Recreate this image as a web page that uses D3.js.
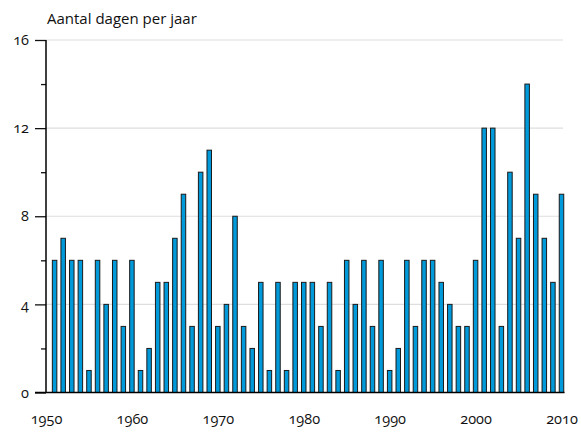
<!DOCTYPE html>
<html>
<head>
<meta charset="utf-8">
<script src="https://cdn.jsdelivr.net/npm/d3@7"></script>
<style>
  body { margin: 0; background: #fff; }
  svg text { font-family: "Open Sans", "Noto Sans", sans-serif; font-variant-numeric: oldstyle-nums; fill: #111; }
</style>
</head>
<body>
<script>
// years and number of days per year
let years = d3.range(1951, 2011);
let days = [
  6, 7, 6, 6, 1, 6, 4, 6, 3, 6,
  1, 2, 5, 5, 7, 9, 3, 10, 11, 3,
  4, 8, 3, 2, 5, 1, 5, 1, 5, 5,
  5, 3, 5, 1, 6, 4, 6, 3, 6, 1,
  2, 6, 3, 6, 6, 5, 4, 3, 3, 6,
  12, 12, 3, 10, 7, 14, 9, 7, 5, 9
];
let xTicks = [1950, 1960, 1970, 1980, 1990, 2000, 2010];
let yMajor = [0, 4, 8, 12, 16];
let yMinor = [2, 6, 10, 14];
let title = "Aantal dagen per jaar";

let svgWidth = 581;
let svgHeight = 432;

let svg = d3.select("body")
  .append("svg")
  .attr("width", svgWidth)
  .attr("height", svgHeight);

let xScale = d3.scaleLinear().domain([1950, 2010]).range([46, 561.5]);
let yScale = d3.scaleLinear().domain([0, 16]).range([392.5, 40]);

// gridlines
svg.append("g")
  .selectAll("line")
  .data(yMajor.filter(d => d > 0))
  .enter()
  .append("line")
  .attr("x1", 46)
  .attr("x2", 563)
  .attr("y1", d => yScale(d))
  .attr("y2", d => yScale(d))
  .attr("stroke", "#dedede")
  .attr("stroke-width", 1.2);

// bars
let barWidth = 4.5;
svg.append("g")
  .selectAll("rect")
  .data(days)
  .enter()
  .append("rect")
  .attr("x", (d, i) => xScale(years[i]) - barWidth / 2)
  .attr("y", d => yScale(d))
  .attr("width", barWidth)
  .attr("height", d => yScale(0) - yScale(d))
  .attr("fill", "#009ada")
  .attr("stroke", "#1a1a1a")
  .attr("stroke-width", 1);

// y axis (major + minor ticks)
let yAxis = d3.axisLeft(yScale).tickValues(yMajor).tickSize(11).tickPadding(6);
let yG = svg.append("g")
  .attr("transform", "translate(46,0)")
  .call(yAxis);
yG.select(".domain").remove();
yG.selectAll("line").attr("stroke", "#111").attr("stroke-width", 1.3);
yG.selectAll("text").attr("font-size", 14.5).attr("x", -17).attr("fill", "#111");

let yMinorAxis = d3.axisLeft(yScale).tickValues(yMinor).tickSize(5).tickFormat("");
let yMinG = svg.append("g")
  .attr("transform", "translate(46,0)")
  .call(yMinorAxis);
yMinG.select(".domain").remove();
yMinG.selectAll("line").attr("stroke", "#111").attr("stroke-width", 1.3);

// axis lines
svg.append("line")
  .attr("x1", 46).attr("x2", 46)
  .attr("y1", yScale(16)).attr("y2", yScale(0))
  .attr("stroke", "#000").attr("stroke-width", 1.5);
svg.append("line")
  .attr("x1", 35).attr("x2", 564.5)
  .attr("y1", yScale(0)).attr("y2", yScale(0))
  .attr("stroke", "#000").attr("stroke-width", 1.3);

// x labels
let xAxis = d3.axisBottom(xScale).tickValues(xTicks).tickSize(0).tickPadding(0).tickFormat(d3.format("d"));
let xG = svg.append("g")
  .attr("transform", "translate(0,414)")
  .call(xAxis);
xG.select(".domain").remove();
xG.selectAll("text").attr("font-size", 14.5).attr("fill", "#111");

// title
svg.append("text")
  .attr("x", 47)
  .attr("y", 24)
  .attr("font-size", 15)
  .text(title);
</script>
</body>
</html>
